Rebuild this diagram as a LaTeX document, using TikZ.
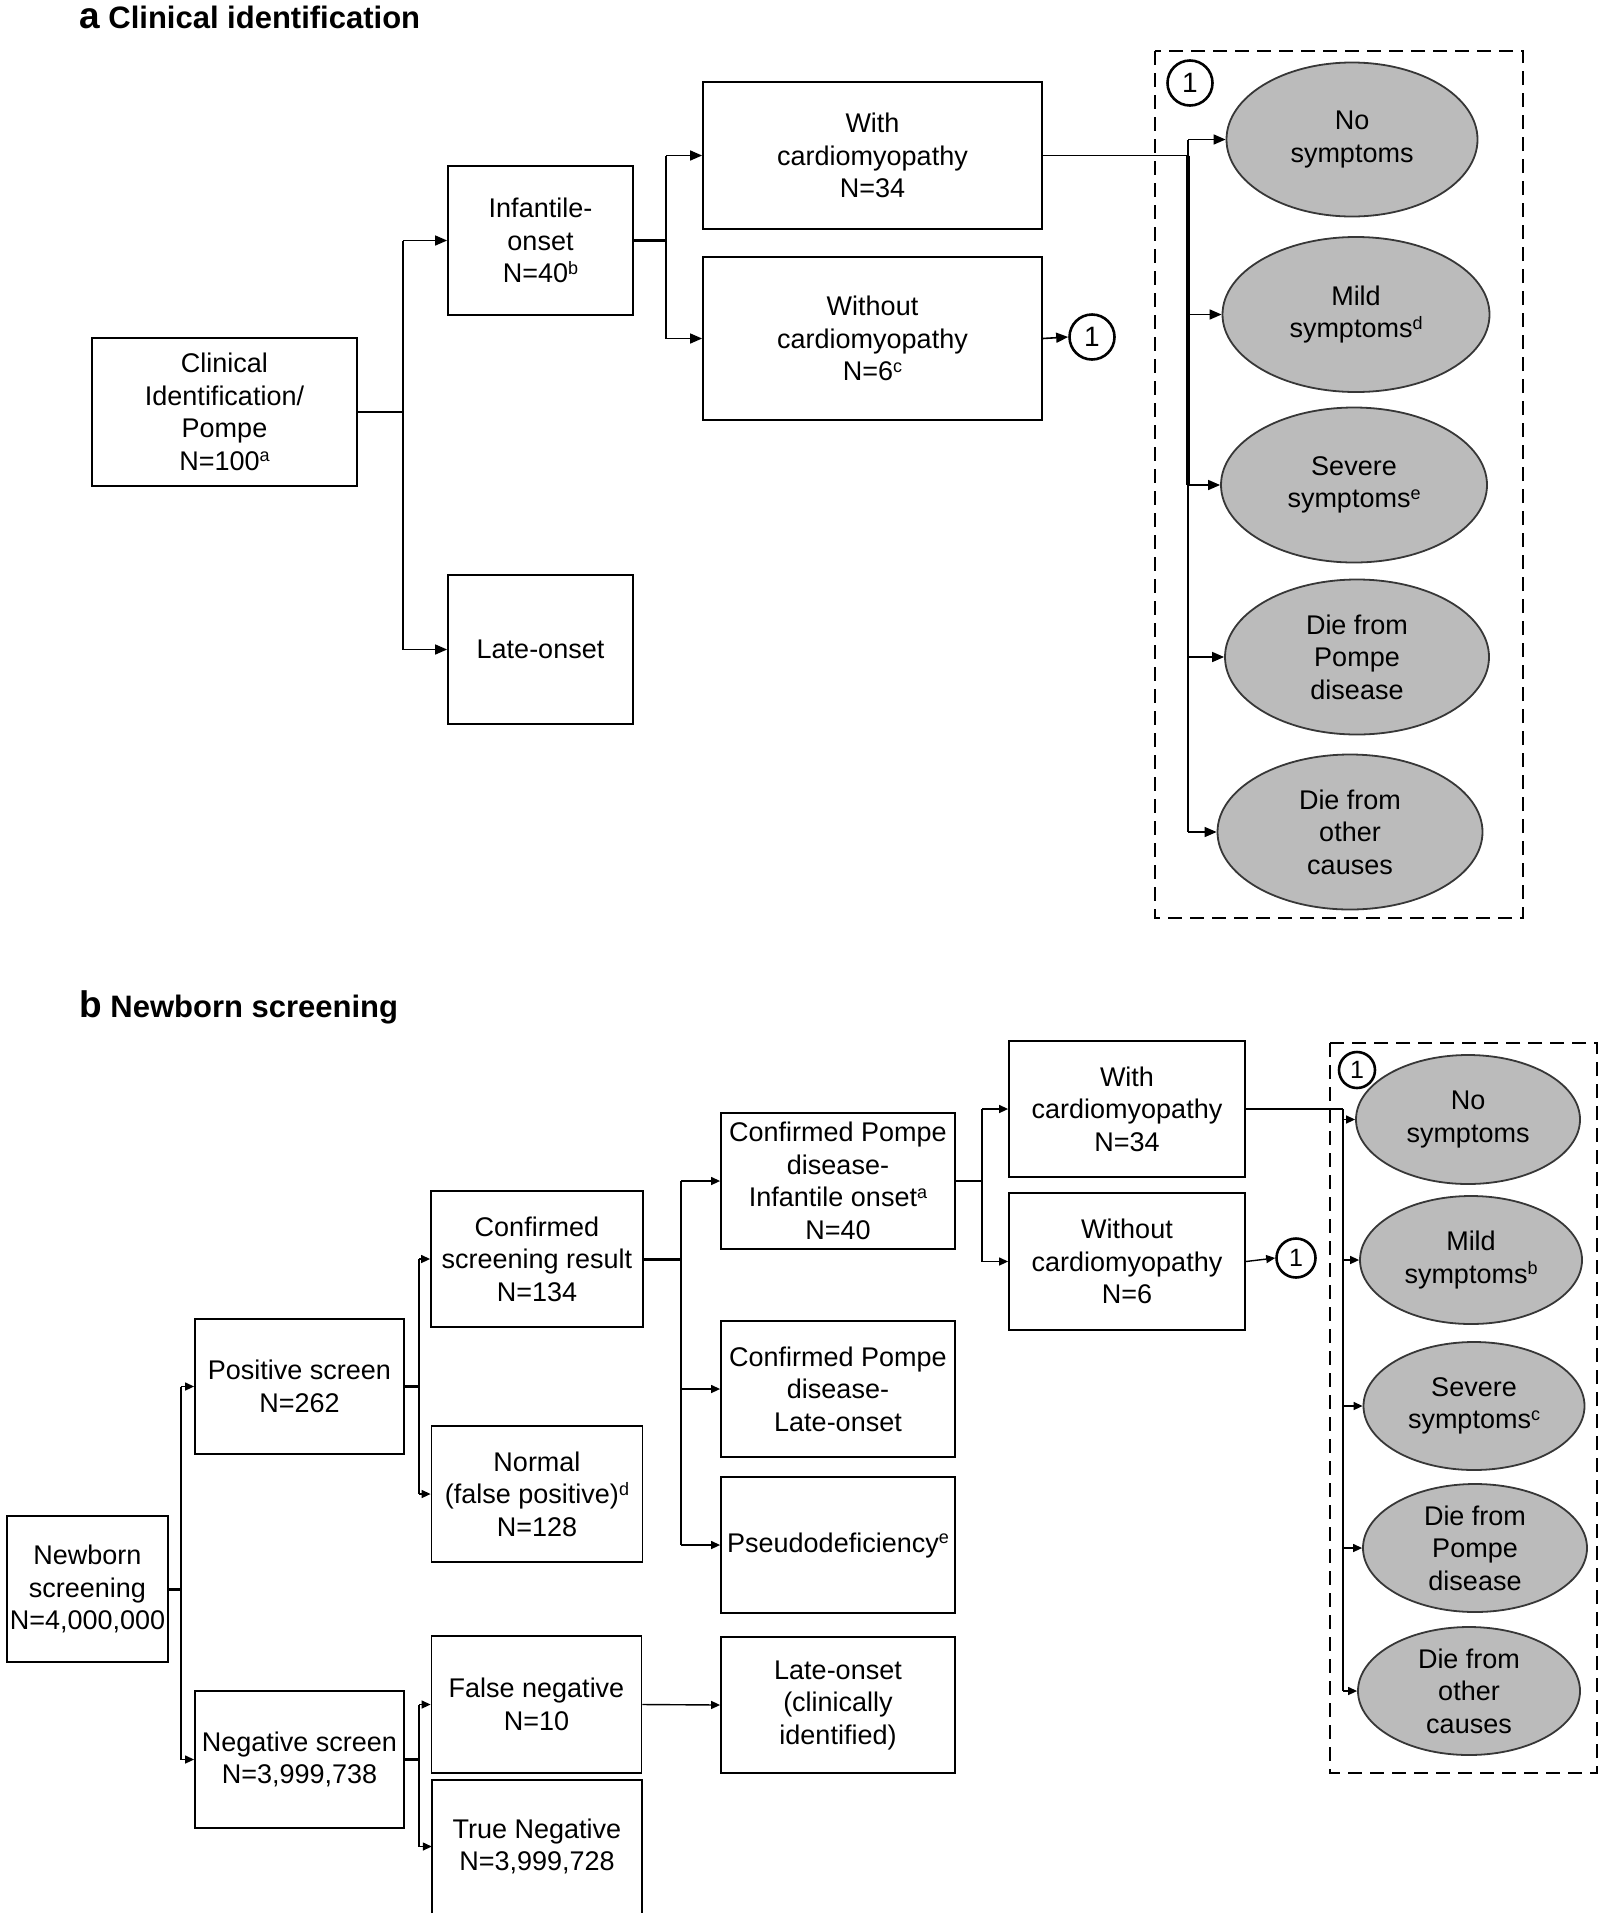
\documentclass[tikz,border=0pt]{standalone}
\usepackage{fontspec}
\setmainfont{Liberation Sans}
\usetikzlibrary{shapes.geometric,arrows.meta}
\definecolor{ellgray}{RGB}{187,187,187}
\definecolor{ellline}{RGB}{55,55,55}
\newcommand\dfont{\fontsize{27}{32.5}\selectfont}
\newcommand\sups[1]{\raisebox{8.5pt}{\fontsize{18}{18}\selectfont #1}}
\begin{document}
\begin{tikzpicture}[x=1pt,y=-1pt,
  box/.style={draw, line width=1.8pt, inner sep=0pt, align=center, font=\dfont},
  tbox/.style={inner sep=0pt, align=center, font=\dfont},
  ell/.style={ellipse, draw=ellline, fill=ellgray, line width=1.8pt, inner sep=0pt, align=center, font=\dfont},
  onec/.style={circle, draw, line width=2.6pt, inner sep=0pt},
  ln/.style={line width=1.6pt},
  thk/.style={line width=3pt},
  arra/.style={line width=1.6pt, -{Triangle[length=12pt,width=10pt]}},
  arrb/.style={line width=1.4pt, -{Triangle[length=9pt,width=8pt]}},
  dbox/.style={line width=2.8pt, dash pattern=on 14pt off 8pt},
  ttl/.style={anchor=base west, inner sep=0pt, font=\bfseries\fontsize{31}{36}\selectfont}]
\useasboundingbox (0,0) rectangle (1605,1920);

% ---------------- panel a ----------------
\node[ttl] (titlea) at (79,28) {{\fontsize{37}{37}\selectfont a} Clinical identification};

\node[box, minimum width=265, minimum height=148] (clin) at (224.5,412) {Clinical\\Identification/\\Pompe\\N=100\sups{a}};
\node[box, minimum width=185, minimum height=149] (inf) at (540.5,240.5) {Infantile-\\onset\\N=40\sups{b}};
\node[box, minimum width=185, minimum height=149] (late) at (540.5,649.5) {Late-onset};
\node[box, minimum width=339, minimum height=147] (with) at (872.5,155.5) {With\\cardiomyopathy\\N=34};
\node[box, minimum width=339, minimum height=163] (without) at (872.5,338.5) {Without\\cardiomyopathy\\N=6\sups{c}};
\node[onec, minimum size=45, font=\fontsize{28}{28}\selectfont] (c1a) at (1092,337) {1};

\draw[dbox] (1155,51) rectangle (1523,918);
\node[onec, minimum size=45, font=\fontsize{28}{28}\selectfont] (c1ai) at (1190,83) {1};
\node[ell, minimum width=251, minimum height=154] (noa) at (1352,139.5) {No\\symptoms};
\node[ell, minimum width=267, minimum height=155] (mila) at (1356,314.5) {Mild\\symptoms\sups{d}};
\node[ell, minimum width=266, minimum height=155] (seva) at (1354,485) {Severe\\symptoms\sups{e}};
\node[ell, minimum width=264, minimum height=155] (poma) at (1357,657) {Die from\\Pompe\\disease};
\node[ell, minimum width=265, minimum height=155] (otha) at (1350,832) {Die from\\other\\causes};

\coordinate (ja1) at (403,412);
\draw[ln] (clin.east) -- (ja1);
\draw[ln] (ja1 |- inf.west) -- (ja1 |- late.west);
\draw[arra] (ja1 |- inf.west) -- (inf.west);
\draw[arra] (ja1 |- late.west) -- (late.west);

\coordinate (ja2) at (666,240.5);
\draw[thk] (inf.east) -- (ja2);
\draw[ln] (ja2 |- with.west) -- (ja2 |- without.west);
\draw[arra] (ja2 |- with.west) -- (with.west);
\draw[arra] (ja2 |- without.west) -- (without.west);
\draw[arra] (without.east) -- (c1a.west);

\coordinate (ta) at (1188,155.5);
\draw[ln] (with.east) -- (ta);
\draw[line width=3.5pt] (ta) -- (ta |- seva.west);
\draw[ln] (ta |- noa.west) -- (ta);
\draw[ln] (ta |- seva.west) -- (ta |- otha.west);
\draw[arra] (ta |- noa.west) -- (noa.west);
\draw[arra] (ta |- mila.west) -- (mila.west);
\draw[arra] (ta |- seva.west) -- (seva.west);
\draw[arra] (ta |- poma.west) -- (poma.west);
\draw[arra] (ta |- otha.west) -- (otha.west);

% ---------------- panel b ----------------
\node[ttl] (titleb) at (79,1017) {{\fontsize{37}{37}\selectfont b} Newborn screening};

\node[box, minimum width=161, minimum height=146] (nb) at (87.5,1589) {Newborn\\screening\\N=4,000,000};
\node[box, minimum width=209, minimum height=135] (pos) at (299.5,1386.5) {Positive screen\\N=262};
\node[box, minimum width=209, minimum height=137] (neg) at (299.5,1759.5) {Negative screen\\N=3,999,738};
\node[box, minimum width=212, minimum height=136] (conf) at (537,1259) {Confirmed\\screening result\\N=134};
\node[box, minimum width=211, minimum height=136] (normal) at (537,1494) {Normal\\(false positive)\sups{d}\\N=128};
\node[box, minimum width=210, minimum height=137] (fn) at (536.5,1704.5) {False negative\\N=10};
\node[tbox, minimum width=210, minimum height=133] (tn) at (537,1846.5) {True Negative\\N=3,999,728};
\draw[line width=1.8pt] (tn.south west) -- (tn.north west) -- (tn.north east) -- (tn.south east);
\node[box, minimum width=234, minimum height=136] (cpinf) at (838,1181) {Confirmed Pompe\\disease-\\Infantile onset\sups{a}\\N=40};
\node[box, minimum width=234, minimum height=136] (cplate) at (838,1389) {Confirmed Pompe\\disease-\\Late-onset};
\node[box, minimum width=234, minimum height=136] (pseudo) at (838,1545) {Pseudodeficiency\sups{e}};
\node[box, minimum width=234, minimum height=136] (lateclin) at (838,1705) {Late-onset\\(clinically\\identified)};
\node[box, minimum width=236, minimum height=136] (withb) at (1127,1109) {With\\cardiomyopathy\\N=34};
\node[box, minimum width=236, minimum height=137] (withoutb) at (1127,1261.5) {Without\\cardiomyopathy\\N=6};
\node[onec, minimum size=39, font=\fontsize{25}{25}\selectfont] (c1b) at (1296,1258) {1};

\draw[dbox] (1330,1043) rectangle (1597,1773);
\node[onec, minimum size=36, font=\fontsize{25}{25}\selectfont] (c1bi) at (1357,1070) {1};
\node[ell, minimum width=224, minimum height=129] (nob) at (1468,1119.5) {No\\symptoms};
\node[ell, minimum width=222, minimum height=128] (milb) at (1471,1260) {Mild\\symptoms\sups{b}};
\node[ell, minimum width=221, minimum height=128] (sevb) at (1474,1406) {Severe\\symptoms\sups{c}};
\node[ell, minimum width=224, minimum height=128] (pomb) at (1475,1548) {Die from\\Pompe\\disease};
\node[ell, minimum width=222, minimum height=128] (othb) at (1469,1691) {Die from\\other\\causes};

\coordinate (jb1) at (181,1589);
\draw[thk] (nb.east) -- (jb1);
\draw[ln] (jb1 |- pos.west) -- (jb1 |- neg.west);
\draw[arrb] (jb1 |- pos.west) -- (pos.west);
\draw[arrb] (jb1 |- neg.west) -- (neg.west);

\coordinate (jb2) at (419,1386.5);
\draw[thk] (pos.east) -- (jb2);
\draw[ln] (jb2 |- conf.west) -- (jb2 |- normal.west);
\draw[arrb] (jb2 |- conf.west) -- (conf.west);
\draw[arrb] (jb2 |- normal.west) -- (normal.west);

\coordinate (jb3) at (419,1759.5);
\draw[thk] (neg.east) -- (jb3);
\draw[ln] (jb3 |- fn.west) -- (jb3 |- tn.west);
\draw[arrb] (jb3 |- fn.west) -- (fn.west);
\draw[arrb] (jb3 |- tn.west) -- (tn.west);

\coordinate (jb4) at (681,1259);
\draw[thk] (conf.east) -- (jb4);
\draw[ln] (jb4 |- cpinf.west) -- (jb4 |- pseudo.west);
\draw[arrb] (jb4 |- cpinf.west) -- (cpinf.west);
\draw[arrb] (jb4 |- cplate.west) -- (cplate.west);
\draw[arrb] (jb4 |- pseudo.west) -- (pseudo.west);
\draw[arrb] (fn.east) -- (lateclin.west);

\coordinate (jb5) at (982,1181);
\draw[ln] (cpinf.east) -- (jb5);
\draw[ln] (jb5 |- withb.west) -- (jb5 |- withoutb.west);
\draw[arrb] (jb5 |- withb.west) -- (withb.west);
\draw[arrb] (jb5 |- withoutb.west) -- (withoutb.west);
\draw[arrb] (withoutb.east) -- (c1b.west);

\coordinate (tb) at (1343,1109);
\draw[ln] (withb.east) -- (tb);
\draw[line width=2.6pt] (tb) -- (tb |- othb.west);
\draw[arrb] (tb |- nob.west) -- (nob.west);
\draw[arrb] (tb |- milb.west) -- (milb.west);
\draw[arrb] (tb |- sevb.west) -- (sevb.west);
\draw[arrb] (tb |- pomb.west) -- (pomb.west);
\draw[arrb] (tb |- othb.west) -- (othb.west);
\end{tikzpicture}
\end{document}
